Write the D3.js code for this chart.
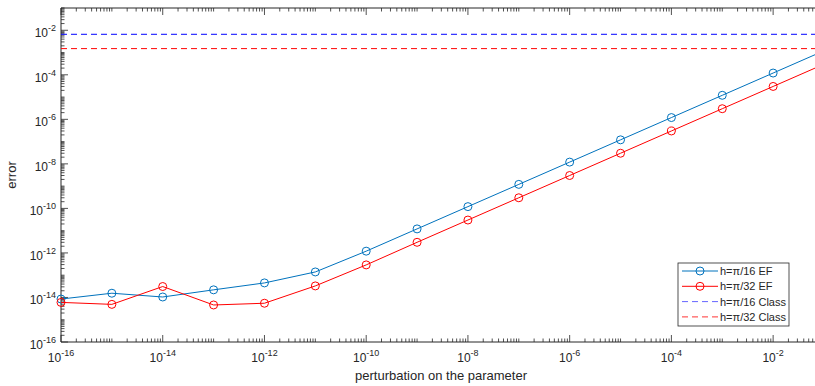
<!DOCTYPE html>
<html>
<head>
<meta charset="utf-8">
<script src="https://cdn.jsdelivr.net/npm/d3@7"></script>
<style>
  body { margin: 0; background: #fff; }
  text { font-family: "Liberation Sans", Arial, sans-serif; fill: #262626; }
</style>
</head>
<body>
<svg id="chart" width="815" height="386"></svg>
<script>
// perturbation values (x) and errors for each step size
var perturbation = [1e-16, 1e-15, 1e-14, 1e-13, 1e-12, 1e-11, 1e-10, 1e-9, 1e-8,
  1e-7, 1e-6, 1e-5, 1e-4, 1e-3, 1e-2, 1e-1];
var errEF16 = [8.5e-15, 1.55e-14, 1.05e-14, 2.2e-14, 4.5e-14, 1.4e-13, 1.2e-12, 1.2e-11,
  1.2e-10, 1.2e-9, 1.2e-8, 1.2e-7, 1.2e-6, 1.2e-5, 1.2e-4, 1.2e-3];
var errEF32 = [6e-15, 4.9e-15, 3.1e-14, 4.6e-15, 5.5e-15, 3.3e-14, 2.9e-13, 3e-12,
  3e-11, 3e-10, 3e-9, 3e-8, 3e-7, 3e-6, 3e-5, 3e-4];
var errClass16 = 6.6e-3;
var errClass32 = 1.5e-3;
var xTickExp = [-16, -14, -12, -10, -8, -6, -4, -2];
var yTickExp = [-16, -14, -12, -10, -8, -6, -4, -2];
var legendLabels = ["h=\u03c0/16 EF", "h=\u03c0/32 EF", "h=\u03c0/16 Class", "h=\u03c0/32 Class"];

var svg = d3.select("#chart"),
  margin = { top: 8, left: 61 },
  width = 763,
  height = 334;

var x = d3.scaleLog().domain([1e-16, 1e-1]).range([0, width]),
  y = d3.scaleLog().domain([1e-16, 1e-1]).range([height, 0]);

var g = svg.append("g")
  .attr("transform", "translate(" + margin.left + "," + margin.top + ")");

// minor + major tick positions
function logTicks(lo, hi) {
  var out = [];
  for (var e = lo; e < hi; e++) {
    for (var k = 1; k < 10; k++) out.push({ v: k * Math.pow(10, e), major: k === 1 && (e % 2 === 0) });
  }
  out.push({ v: Math.pow(10, hi), major: false });
  return out;
}
var xt = logTicks(-16, -1), yt = logTicks(-16, -1);

var axisColor = "#262626";

// ticks inward, bottom and top
g.selectAll(".xtick").data(xt).enter().append("line")
  .attr("x1", function (d) { return x(d.v); }).attr("x2", function (d) { return x(d.v); })
  .attr("y1", height).attr("y2", function (d) { return height - (d.major ? 7 : 3.5); })
  .attr("stroke", axisColor).attr("stroke-width", 0.8);
g.selectAll(".xtickt").data(xt).enter().append("line")
  .attr("x1", function (d) { return x(d.v); }).attr("x2", function (d) { return x(d.v); })
  .attr("y1", 0).attr("y2", function (d) { return d.major ? 7 : 3.5; })
  .attr("stroke", axisColor).attr("stroke-width", 0.8);
g.selectAll(".ytick").data(yt).enter().append("line")
  .attr("y1", function (d) { return y(d.v); }).attr("y2", function (d) { return y(d.v); })
  .attr("x1", 0).attr("x2", function (d) { return d.major ? 7 : 3.5; })
  .attr("stroke", axisColor).attr("stroke-width", 0.8);

// axis lines
g.append("line").attr("x1", 0).attr("x2", width).attr("y1", height).attr("y2", height)
  .attr("stroke", axisColor).attr("stroke-width", 1);
g.append("line").attr("x1", 0).attr("x2", width).attr("y1", 0).attr("y2", 0)
  .attr("stroke", axisColor).attr("stroke-width", 1);
g.append("line").attr("x1", 0).attr("x2", 0).attr("y1", 0).attr("y2", height)
  .attr("stroke", axisColor).attr("stroke-width", 1);

// tick labels: 10 with superscript exponent
function powLabel(t, e) {
  t.append("tspan").text("10");
  t.append("tspan").attr("dy", -6).attr("font-size", 9).text(e);
}
xTickExp.forEach(function (e) {
  var t = g.append("text")
    .attr("x", x(Math.pow(10, e))).attr("y", height + 20)
    .attr("text-anchor", "middle").attr("font-size", 12);
  powLabel(t, e);
});
yTickExp.forEach(function (e) {
  var t = g.append("text")
    .attr("x", -5).attr("y", y(Math.pow(10, e)) + 7)
    .attr("text-anchor", "end").attr("font-size", 12);
  powLabel(t, e);
});

// axis titles
svg.append("text").attr("x", 441).attr("y", 380).attr("text-anchor", "middle")
  .attr("font-size", 13).text("perturbation on the parameter");
svg.append("text").attr("transform", "translate(16,175) rotate(-90)")
  .attr("text-anchor", "middle").attr("font-size", 13).text("error");

// horizontal class lines
var hlines = [{ v: errClass16, c: "#0000ff" }, { v: errClass32, c: "#ff0000" }];
g.selectAll(".hline").data(hlines).enter().append("line")
  .attr("x1", 0).attr("x2", width)
  .attr("y1", function (d) { return y(d.v); }).attr("y2", function (d) { return y(d.v); })
  .attr("stroke", function (d) { return d.c; }).attr("stroke-width", 1)
  .attr("stroke-dasharray", "6,4");

// EF series
var series = [{ vals: errEF16, c: "#0072bd" }, { vals: errEF32, c: "#ff0000" }];
var line = d3.line()
  .x(function (d) { return x(d[0]); })
  .y(function (d) { return y(d[1]); });

series.forEach(function (s) {
  var pts = perturbation.map(function (p, i) { return [p, s.vals[i]]; });
  g.append("path").datum(pts)
    .attr("d", line).attr("fill", "none")
    .attr("stroke", s.c).attr("stroke-width", 1);
  g.selectAll(null).data(pts).enter().append("circle")
    .attr("cx", function (d) { return x(d[0]); })
    .attr("cy", function (d) { return y(d[1]); })
    .attr("r", 4).attr("fill", "none")
    .attr("stroke", s.c).attr("stroke-width", 1);
});

// legend
var lg = svg.append("g").attr("transform", "translate(678,263)");
lg.append("rect").attr("width", 111).attr("height", 63)
  .attr("fill", "#fff").attr("stroke", axisColor).attr("stroke-width", 0.8);
var legendItems = [
  { c: "#0072bd", dash: null, marker: true },
  { c: "#ff0000", dash: null, marker: true },
  { c: "#6666ff", dash: "6,4", marker: false },
  { c: "#ff3333", dash: "6,4", marker: false }
];
legendItems.forEach(function (d, i) {
  var yy = 8 + i * 15.3;
  lg.append("line").attr("x1", 4).attr("x2", 40).attr("y1", yy).attr("y2", yy)
    .attr("stroke", d.c).attr("stroke-width", 1)
    .attr("stroke-dasharray", d.dash);
  if (d.marker) {
    lg.append("circle").attr("cx", 22).attr("cy", yy).attr("r", 4)
      .attr("fill", "none").attr("stroke", d.c).attr("stroke-width", 1);
  }
  lg.append("text").attr("x", 42).attr("y", yy + 4)
    .attr("font-size", 11).attr("fill", "#000").text(legendLabels[i]);
});
</script>
</body>
</html>
